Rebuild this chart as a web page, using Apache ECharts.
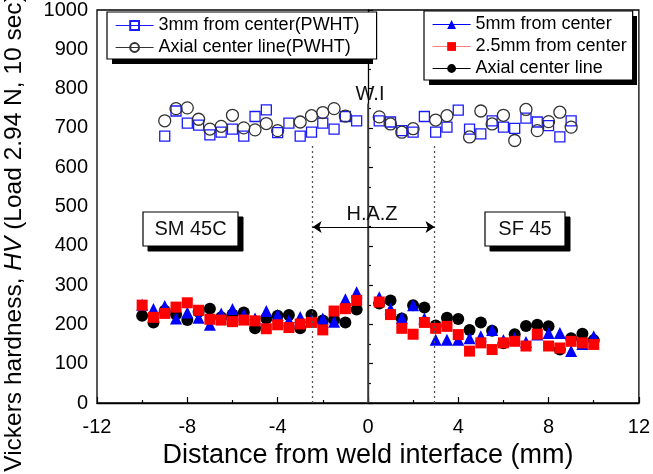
<!DOCTYPE html>
<html>
<head>
<meta charset="utf-8">
<script src="https://cdn.jsdelivr.net/npm/echarts@6/dist/echarts.min.js"></script>
<style>
  html, body { margin: 0; padding: 0; background: #fff; }
  #chart { width: 653px; height: 474px; }
</style>
</head>
<body>
<div id="chart"></div>
<script>
// ---- data ----
// as-welded profiles: -10 .. 10 mm, 0.5 mm step (no point at the interface)
var xAsWelded = [-10, -9.5, -9, -8.5, -8, -7.5, -7, -6.5, -6, -5.5, -5, -4.5, -4, -3.5, -3, -2.5, -2, -1.5, -1, -0.5,
                 0.5, 1, 1.5, 2, 2.5, 3, 3.5, 4, 4.5, 5, 5.5, 6, 6.5, 7, 7.5, 8, 8.5, 9, 9.5, 10];
var hv5mm   = [250, 239, 247, 215, 230, 217, 199, 228, 239, 225, 215, 234, 224, 210, 219, 212, 215, 207, 264, 282,
               269, 240, 217, 249, 215, 161, 161, 161, 165, 170, 186, 160, 165, 155, 174, 178, 178, 132, 150, 170];
var hv2_5mm = [249, 218, 228, 244, 255, 236, 213, 211, 207, 211, 209, 189, 199, 192, 201, 205, 186, 234, 240, 261,
               257, 225, 190, 175, 205, 190, 195, 174, 132, 153, 136, 153, 157, 145, 175, 145, 140, 157, 153, 149];
var hvAxial = [222, 205, 235, 225, 211, 232, 240, 218, 225, 230, 190, 215, 222, 224, 190, 224, 210, 212, 205, 238,
               253, 261, 215, 249, 243, 197, 217, 214, 186, 205, 184, 152, 175, 196, 199, 195, 136, 165, 176, 160];

// PWHT profiles: -9 .. 9 mm
var xPwht = [-9, -8.5, -8, -7.5, -7, -6.5, -6, -5.5, -5, -4.5, -4, -3.5, -3, -2.5, -2, -1.5, -1, -0.5,
             0.5, 1, 1.5, 2, 2.5, 3, 3.5, 4, 4.5, 5, 5.5, 6, 6.5, 7, 7.5, 8, 8.5, 9];
var hv3mmPwht  = [679, 743, 712, 707, 682, 689, 697, 679, 729, 746, 688, 712, 679, 689, 712, 697, 729, 718,
                  718, 715, 693, 689, 729, 689, 702, 745, 697, 685, 718, 702, 699, 725, 715, 706, 677, 718];
var hvAxialPwht = [718, 749, 751, 722, 697, 704, 732, 700, 695, 711, 693, null, 715, 731, 739, 749, 730, null,
                   728, 710, 689, 698, null, 720, 731, null, 677, 743, 710, 732, 668, 747, 693, 716, 740, 702];

var xTicks = { min: -12, max: 12, step: 4 };
var yTicks = { min: 0, max: 1000, step: 100 };

function pairs(xs, ys) {
    var out = [];
    for (var i = 0; i < xs.length; i++) {
        if (ys[i] != null) out.push([xs[i], ys[i]]);
    }
    return out;
}

var FONT = '"Liberation Sans", Arial, sans-serif';
var chart = echarts.init(document.getElementById('chart'), null, { renderer: 'canvas' });

var legendBase = {
    orient: 'vertical',
    itemWidth: 38,
    itemHeight: 11,
    itemGap: 1,
    padding: [3, 6, 1, 8],
    backgroundColor: '#fff',
    borderColor: '#000',
    borderWidth: 1.2,
    lineStyle: { opacity: 1, width: 1.2 },
    textStyle: { fontFamily: FONT, fontSize: 18, lineHeight: 21, color: '#000' },
    selectedMode: false,
    z: 5
};

// hard drop shadow (black box offset behind a white box)
function shadowBox(x, y, w, h) {
    return [
        { type: 'rect', z: 10, shape: { x: x + 5, y: y + 5, width: w, height: h }, style: { fill: '#000', stroke: '#000', lineWidth: 1 } },
        { type: 'rect', z: 11, shape: { x: x, y: y, width: w, height: h }, style: { fill: '#fff', stroke: '#000', lineWidth: 1.2 } }
    ];
}
function label(text, x, y, size, z) {
    return { type: 'text', z: z || 12, x: x, y: y,
             style: { text: text, fontSize: size, fontFamily: FONT, fill: '#111', align: 'center', verticalAlign: 'middle' } };
}

var option = {
    animation: false,
    backgroundColor: '#fff',
    textStyle: { fontFamily: FONT },
    grid: { left: 97, right: 10, top: 10, bottom: 61, show: true, borderColor: '#000', borderWidth: 1.3 },
    legend: [
        Object.assign({}, legendBase, { left: 107, top: 12, padding: [3, 17, 1, 8],
                                        data: ['3mm from center(PWHT)', 'Axial center line(PWHT)'] }),
        Object.assign({}, legendBase, { left: 424, top: 11, data: ['5mm from center', '2.5mm from center', 'Axial center line'] })
    ],
    xAxis: {
        type: 'value', min: xTicks.min, max: xTicks.max, interval: xTicks.step,
        name: 'Distance from weld interface (mm)',
        nameLocation: 'middle', nameGap: 39,
        nameTextStyle: { fontSize: 27, color: '#000', fontFamily: FONT },
        axisLine: { onZero: false, lineStyle: { color: '#000', width: 1.3 } },
        axisTick: { inside: true, length: 6, lineStyle: { color: '#000', width: 1.2 } },
        minorTick: { show: true, splitNumber: 2, length: 3, lineStyle: { color: '#000', width: 1.2 } },
        axisLabel: { fontSize: 20, color: '#000', margin: 14 },
        splitLine: { show: false }
    },
    yAxis: {
        type: 'value', min: yTicks.min, max: yTicks.max, interval: yTicks.step,
        axisLine: { show: true, lineStyle: { color: '#000', width: 1.3 } },
        axisTick: { show: true, inside: true, length: 5, lineStyle: { color: '#000', width: 1.2 } },
        minorTick: { show: true, splitNumber: 2, length: 3, lineStyle: { color: '#000', width: 1.2 } },
        axisLabel: { fontSize: 20, color: '#000', margin: 9, formatter: function (v) { return String(v); } },
        splitLine: { show: false }
    },
    series: [
        {
            name: '3mm from center(PWHT)', type: 'line', data: pairs(xPwht, hv3mmPwht),
            symbol: 'rect', symbolSize: 10,
            itemStyle: { color: 'rgba(255,255,255,0)', borderColor: '#1a1aff', borderWidth: 1.3 },
            lineStyle: { color: '#1a1aff', opacity: 0 }
        },
        {
            name: 'Axial center line(PWHT)', type: 'line', data: pairs(xPwht, hvAxialPwht),
            symbol: 'circle', symbolSize: 12,
            itemStyle: { color: 'rgba(255,255,255,0)', borderColor: '#333', borderWidth: 1.3 },
            lineStyle: { color: '#333', opacity: 0 }
        },
        {
            name: 'Axial center line', type: 'line', data: pairs(xAsWelded, hvAxial),
            symbol: 'circle', symbolSize: 12,
            itemStyle: { color: '#000' },
            lineStyle: { color: '#000', opacity: 0 },
            markLine: {
                silent: true, symbol: ['none', 'none'], symbolSize: 9,
                label: { show: false },
                data: [
                    [{ coord: [0, 0], lineStyle: { color: '#444', width: 1.6, type: 'solid' } }, { coord: [0, 762] }],
                    [{ coord: [-2.45, 0], lineStyle: { color: '#555', width: 1.3, type: [2, 3] } }, { coord: [-2.45, 660] }],
                    [{ coord: [2.95, 0], lineStyle: { color: '#555', width: 1.3, type: [2, 3] } }, { coord: [2.95, 660] }],
                    [{ coord: [-2.45, 448], symbol: 'arrow', lineStyle: { color: '#000', width: 1, type: 'solid' } },
                     { coord: [2.95, 448], symbol: 'arrow' }]
                ]
            }
        },
        {
            name: '5mm from center', type: 'line', data: pairs(xAsWelded, hv5mm),
            symbol: 'triangle', symbolSize: 12,
            itemStyle: { color: '#0000ff' },
            lineStyle: { color: '#0000ff', opacity: 0 }
        },
        {
            name: '2.5mm from center', type: 'line', data: pairs(xAsWelded, hv2_5mm),
            symbol: 'rect', symbolSize: 11,
            itemStyle: { color: '#ff0000' },
            lineStyle: { color: '#ff7a7a', opacity: 0 }
        }
    ],
    graphic: [].concat(
        // y axis title (italic HV)
        [{
            type: 'text', z: 12, x: 14, y: 233, rotation: Math.PI / 2,
            style: {
                text: 'Vickers hardness, {i|HV} (Load 2.94 N, 10 sec)',
                fontSize: 24.5, fontFamily: FONT, fill: '#000',
                align: 'center', verticalAlign: 'middle',
                rich: { i: { fontStyle: 'italic', fontSize: 24.5, fontFamily: FONT, fill: '#000' } }
            }
        }],
        // legend shadows sit under the legend boxes (legend z = 5)
        [{ type: 'rect', z: 1, shape: { x: 112, y: 17, width: 261, height: 47 }, style: { fill: '#000' } },
         { type: 'rect', z: 1, shape: { x: 429, y: 16, width: 208, height: 69 }, style: { fill: '#000' } }],
        [label('W.I', 370, 94, 20), label('H.A.Z', 372, 214, 20)],
        shadowBox(143, 212, 95, 34), [label('SM 45C', 190.5, 229, 20)],
        shadowBox(485, 212, 80, 34), [label('SF 45', 525, 229, 20)]
    )
};

chart.setOption(option);
</script>
</body>
</html>
